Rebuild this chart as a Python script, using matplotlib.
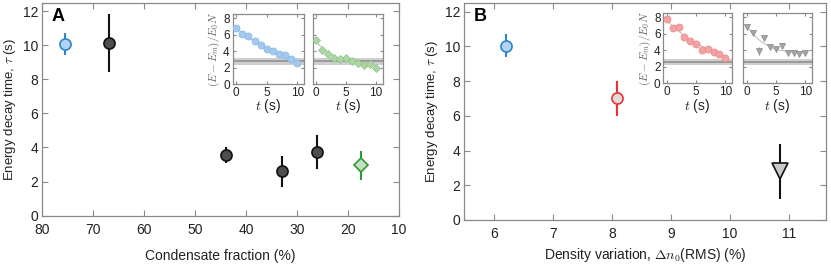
import matplotlib.pyplot as plt
import numpy as np

plt.rcParams['font.family'] = ['Liberation Sans', 'DejaVu Sans']
plt.rcParams['mathtext.fontset'] = 'cm'

# main panel A: condensate fraction vs decay time
frac_blue = [75.5]
tau_blue = [10.05]
err_blue = [0.65]
frac_dark = [67, 44, 33, 26]
tau_dark = [10.1, 3.55, 2.6, 3.75]
err_dark = [1.7, 0.45, 0.9, 1.0]
frac_green = [17.5]
tau_green = [2.95]
err_green = [0.85]

# main panel B: density variation vs decay time
dn_blue = [6.2]
dn_tau_blue = [10.05]
dn_err_blue = [0.65]
dn_red = [8.08]
dn_tau_red = [7.0]
dn_err_red = [1.0]
dn_tri = [10.85]
dn_tau_tri = [2.8]
dn_err_tri = [1.6]

# insets: energy vs time
t = np.arange(0, 11)
e_blue = [6.8, 6.1, 5.8, 5.2, 4.7, 4.2, 4.0, 3.6, 3.5, 3.0, 2.6]
fit_blue = [6.8, 6.2, 5.7, 5.2, 4.7, 4.3, 3.9, 3.6, 3.3, 3.0, 2.8]
e_green = [5.3, 4.1, 3.6, 3.1, 3.0, 3.2, 2.8, 2.6, 2.3, 2.4, 1.9]
fit_green = [5.2, 4.3, 3.7, 3.3, 3.1, 2.9, 2.7, 2.55, 2.45, 2.35, 2.25]
e_red = [7.8, 6.7, 6.8, 5.6, 5.1, 4.8, 4.0, 4.2, 3.8, 3.6, 3.1]
fit_red = [7.6, 6.9, 6.3, 5.8, 5.3, 4.9, 4.5, 4.2, 3.9, 3.6, 3.3]
e_gray = [6.8, 6.1, 3.9, 5.5, 4.4, 4.2, 4.5, 3.7, 3.7, 3.6, 3.7]
err_gray = [0.15, 0.15, 0.45, 0.15, 0.15, 0.15, 0.2, 0.15, 0.15, 0.15, 0.2]
fit_gray = [6.9, 6.0, 5.3, 4.8, 4.4, 4.1, 3.95, 3.85, 3.75, 3.7, 3.65]
band_A = 2.75
band_B = 2.6

spine_c = '#8a8a8a'
text_c = '#222222'


def style(ax, fs, pad=4):
    for s in ax.spines.values():
        s.set_color(spine_c)
        s.set_linewidth(0.9)
    ax.tick_params(direction='in', top=True, right=True, color=spine_c,
                   labelsize=fs, labelcolor=text_c, length=4, width=0.8, pad=pad)


fig = plt.figure(figsize=(8.31, 2.64), dpi=100)

axA = fig.add_axes([0.0509, 0.183, 0.4292, 0.8075])
axB = fig.add_axes([0.5587, 0.1667, 0.4353, 0.822])

axA.errorbar(frac_blue, tau_blue, yerr=err_blue, fmt='o', ms=8, mfc='#b5d3f0',
             mec='#2a87d0', mew=1.2, ecolor='#2a87d0', elinewidth=1.5, capsize=0)
axA.errorbar(frac_dark, tau_dark, yerr=err_dark, fmt='o', ms=8, mfc='#4d4d4d',
             mec='#111111', mew=1.2, ecolor='#111111', elinewidth=1.5, capsize=0)
axA.errorbar(frac_green, tau_green, yerr=err_green, fmt='D', ms=7, mfc='#c5dfc0',
             mec='#2e9a35', mew=1.2, ecolor='#2e9a35', elinewidth=1.5, capsize=0)
axA.set_xlim(80, 10)
axA.set_ylim(0, 12.5)
axA.set_xticks([80, 70, 60, 50, 40, 30, 20, 10])
axA.set_yticks([0, 2, 4, 6, 8, 10, 12])
axA.set_xlabel('Condensate fraction (%)', fontsize=10, color=text_c, labelpad=9)
axA.set_ylabel(r'Energy decay time, $\tau$ (s)', fontsize=9.5, color=text_c, labelpad=3)
axA.text(0.025, 0.975, 'A', transform=axA.transAxes, fontsize=13, fontweight='bold',
         va='top', ha='left')
style(axA, 10)
axA.tick_params(axis='y', pad=3)
axA.tick_params(axis='x', pad=5)

axB.errorbar(dn_blue, dn_tau_blue, yerr=dn_err_blue, fmt='o', ms=8, mfc='#b5d3f0',
             mec='#2a87d0', mew=1.2, ecolor='#2a87d0', elinewidth=1.5, capsize=0)
axB.errorbar(dn_red, dn_tau_red, yerr=dn_err_red, fmt='o', ms=8, mfc='#dddddd',
             mec='#f03030', mew=1.2, ecolor='#f03030', elinewidth=1.5, capsize=0)
axB.errorbar(dn_tri, dn_tau_tri, yerr=dn_err_tri, fmt='v', ms=11, mfc='#c8c8c8',
             mec='#111111', mew=1.2, ecolor='#111111', elinewidth=1.5, capsize=0)
axB.set_xlim(5.5, 11.63)
axB.set_ylim(0, 12.5)
axB.set_xticks([6, 7, 8, 9, 10, 11])
axB.set_yticks([0, 2, 4, 6, 8, 10, 12])
axB.set_xlabel(r'Density variation, $\Delta n_0$(RMS) (%)', fontsize=10, color=text_c,
               labelpad=4)
axB.set_ylabel(r'Energy decay time, $\tau$ (s)', fontsize=9.5, color=text_c, labelpad=3)
axB.text(0.025, 0.975, 'B', transform=axB.transAxes, fontsize=13, fontweight='bold',
         va='top', ha='left')
style(axB, 10)
axB.tick_params(axis='y', pad=3)
axB.tick_params(axis='x', pad=5)


def inset(rect, e, fit, band, marker, fc, ec, yerr=None, ylab=False):
    ax = fig.add_axes(rect)
    ax.axhspan(band - 0.4, band + 0.4, color='#cfcfcf', lw=0, zorder=1)
    ax.axhspan(band - 0.13, band + 0.13, color='#9a9a9a', lw=0, zorder=1)
    ax.plot(t, fit, color='#b0b0b0', lw=0.6, zorder=2)
    if yerr is None:
        yerr = [0.15] * len(t)
    ms = 5 if marker == 'o' else 4.5
    ax.errorbar(t, e, yerr=yerr, fmt=marker, ms=ms, mfc=fc, mec=ec, mew=0.6,
                ecolor=ec, elinewidth=0.8, capsize=0, zorder=3)
    ax.set_xlim(-0.6, 11.1)
    ax.set_ylim(0, 8.5)
    ax.set_xticks([0, 5, 10])
    ax.set_yticks([0, 2, 4, 6, 8])
    ax.set_xlabel(r'$t$ (s)', fontsize=10, color=text_c, labelpad=-1)
    style(ax, 8.5, pad=2)
    ax.tick_params(length=2.5)
    if ylab:
        ax.set_ylabel(r'$(E-E_m)/E_0N$', fontsize=8, color='#666666', labelpad=1)
    else:
        ax.set_yticklabels([])
    return ax


inset([0.2798, 0.6818, 0.0860, 0.265], e_blue, fit_blue, band_A, 'o',
      '#a3c9ee', '#8bbbe8', ylab=True)
inset([0.3763, 0.6818, 0.0842, 0.265], e_green, fit_green, band_A, 'D',
      '#acd6a4', '#96c98d')
inset([0.7982, 0.6845, 0.0823, 0.266], e_red, fit_red, band_B, 'o',
      '#f2a3a3', '#ec8c8c', ylab=True)
inset([0.8945, 0.6845, 0.0823, 0.266], e_gray, fit_gray, band_B, 'v',
      '#a5a5a5', '#909090', yerr=err_gray)

fig.savefig('out.png', dpi=100)
